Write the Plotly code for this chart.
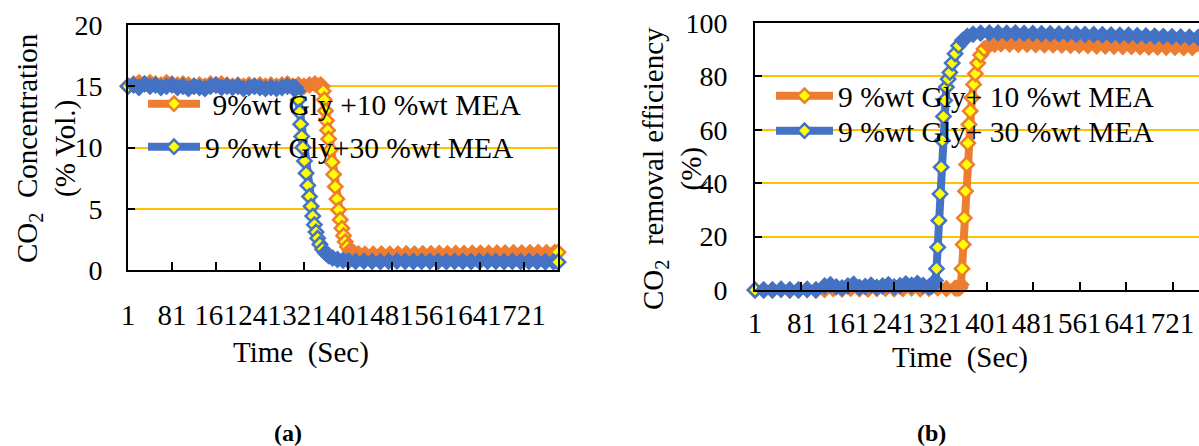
import plotly.graph_objects as go

# ---------------- data ----------------
tick_vals = [1, 81, 161, 241, 321, 401, 481, 561, 641, 721]
tick_text = ["1", "81", "161", "241", "321", "401", "481", "561", "641", "721"]

name_a10 = "\u00a09%wt Gly +10 %wt MEA"
name_a30 = "9 %wt Gly+30 %wt MEA"
name_b10 = "9 %wt Gly+ 10 %wt MEA"
name_b30 = "9 %wt Gly+ 30 %wt MEA"

# (a) CO2 concentration (% Vol.) - 9 %wt Gly + 10 %wt MEA
time_a10 = [1, 11, 21, 31, 41, 51, 61, 71, 81, 91, 101, 111, 121, 131, 141, 151, 161, 171,
            181, 191, 201, 211, 221, 231, 241, 251, 261, 271, 281, 291, 301, 311, 321, 331,
            341, 351,
            354, 356, 358, 360, 362, 364, 366, 369, 372, 375, 378, 381, 384, 387, 390, 393,
            396, 400, 405, 412, 420,
            432, 447, 462, 477, 492, 507, 522, 537, 552, 567, 582, 597, 612, 627, 642, 657,
            672, 687, 702, 717, 732, 747, 762, 777, 783]
conc_a10 = [15.0, 15.2, 15.3, 15.2, 15.3, 15.2, 15.1, 15.3, 15.2, 15.1, 15.2, 15.1, 15.0, 15.1,
            15.0, 15.2, 15.1, 15.2, 15.1, 15.0, 15.1, 15.0, 15.1, 15.0, 15.1, 15.0, 15.1, 15.0,
            15.1, 15.2, 15.0, 15.1, 15.0, 15.1, 15.2, 15.1,
            15.0, 14.6, 13.9, 13.0, 12.2, 11.4, 10.7, 9.8, 8.8, 7.8, 6.8, 5.8, 4.9, 4.1, 3.4,
            2.8, 2.3, 1.9, 1.6, 1.4, 1.32,
            1.3, 1.3, 1.32, 1.3, 1.31, 1.33, 1.32, 1.34, 1.33, 1.35, 1.34, 1.36, 1.35, 1.37,
            1.38, 1.37, 1.39, 1.4, 1.41, 1.4, 1.42, 1.43, 1.42, 1.44, 1.45]

# (a) CO2 concentration (% Vol.) - 9 %wt Gly + 30 %wt MEA
time_a30 = [1, 11, 21, 31, 41, 51, 61, 71, 81, 91, 101, 111, 121, 131, 141, 151, 161, 171,
            181, 191, 201, 211, 221, 231, 241, 251, 261, 271, 281, 291, 301,
            305, 309, 311, 313, 315, 317, 319, 322, 325, 328, 331, 334, 337, 340, 343, 346,
            350, 355, 360, 366, 373, 382, 392, 402,
            415, 430, 445, 460, 475, 490, 505, 520, 535, 550, 565, 580, 595, 610, 625, 640,
            655, 670, 685, 700, 715, 730, 745, 760, 775, 783]
conc_a30 = [15.0, 15.1, 14.9, 15.2, 15.0, 15.1, 14.9, 15.0, 15.1, 14.9, 15.0, 14.8, 15.0, 14.9,
            14.8, 15.0, 15.1, 14.9, 15.0, 14.9, 15.0, 14.8, 14.9, 15.0, 14.9, 14.8, 14.9, 14.8,
            14.9, 15.0, 14.9,
            14.9, 14.6, 13.9, 12.9, 11.9, 10.9, 10.0, 8.9, 7.9, 6.9, 6.0, 5.2, 4.4, 3.7, 3.1,
            2.6, 2.1, 1.7, 1.4, 1.15, 0.98, 0.86, 0.79, 0.74,
            0.7, 0.72, 0.7, 0.68, 0.7, 0.72, 0.7, 0.69, 0.7, 0.71, 0.7, 0.68, 0.7, 0.7, 0.69,
            0.7, 0.71, 0.7, 0.68, 0.7, 0.69, 0.7, 0.68, 0.67, 0.66, 0.65]

# (b) CO2 removal efficiency (%) - 9 %wt Gly + 10 %wt MEA
time_b10 = [1, 16, 31, 46, 61, 76, 91, 106, 121, 136, 151, 166, 181, 196, 211, 226, 241, 256,
            271, 286, 301, 316, 331, 346,
            350, 354, 356, 358, 360, 362, 364, 366, 368, 370, 372, 375, 378, 381, 385, 390,
            396, 404, 414, 425,
            440, 455, 470, 485, 500, 515, 530, 545, 560, 575, 590, 605, 620, 635, 650, 665,
            680, 695, 710, 725, 740, 755, 770, 783]
eff_b10 = [0, 0, 0, 0.2, 0, 0, 0.3, 0, 0.2, 0.5, 0.3, 0.6, 0.4, 0.3, 0.5, 0.6, 0.4, 0.5, 0.7,
           0.4, 0.6, 0.8, 0.5, 0.7,
           0.6, 0.8, 2, 8, 17, 27, 37, 47, 55, 62, 67, 72, 77, 81, 85, 88, 90.3, 91.5, 92.0,
           92.2,
           92.1, 92.0, 92.0, 91.9, 91.8, 91.8, 91.7, 91.6, 91.6, 91.5, 91.4, 91.4, 91.3, 91.2,
           91.2, 91.1, 91.0, 91.0, 90.9, 90.9, 90.8, 90.8, 90.7, 90.7]

# (b) CO2 removal efficiency (%) - 9 %wt Gly + 30 %wt MEA
time_b30 = [1, 16, 31, 46, 61, 76, 91, 106,
            121, 131, 141, 151, 161, 171, 181, 191, 201, 211, 221, 231, 241, 251, 261, 271,
            281, 291, 301,
            306, 310, 312, 314, 316, 318, 320, 322, 324, 326, 328, 331, 334, 337, 341, 346,
            352, 359, 367, 377, 390,
            405, 420, 435, 450, 465, 480, 495, 510, 525, 540, 555, 570, 585, 600, 615, 630,
            645, 660, 675, 690, 705, 720, 735, 750, 765, 780, 783]
eff_b30 = [0, 0, 0, 0.3, 0, 0, 0.2, 0,
           1.5, 2.0, 1.2, 0.8, 1.5, 2.2, 1.0, 1.3, 1.8, 1.0, 1.5, 2.0, 1.2, 1.6, 2.3, 1.8,
           2.5, 1.7, 1.2,
           1.5, 2.2, 3.5, 8, 16, 26, 36, 46, 56, 65, 71, 76, 79, 81.5, 85, 88.5, 91.5, 93.5,
           95, 95.8, 96.2,
           96.3, 96.3, 96.2, 96.3, 96.1, 96.1, 96.0, 96.0, 95.9, 95.9, 95.8, 95.7, 95.7, 95.6,
           95.5, 95.4, 95.4, 95.3, 95.2, 95.1, 95.0, 94.9, 94.8, 94.7, 94.6, 94.5, 94.5]

# ---------------- style ----------------
W, H = 1199, 446
ORANGE = "#ED7D31"
BLUE = "#4472C4"
YELLOW = "#FFFF00"
GOLD = "#FFC000"
FONT = "Liberation Serif"


def px(xp):
    return xp / W


def py(yp):
    return 1 - yp / H


fig = go.Figure()


def add_series(t, v, color, name, xa, ya, legend, thr):
    n = len(v)
    fills = [YELLOW if (i == 0 or i == n - 1 or abs(v[i] - v[i - 1]) > thr) else color
             for i in range(n)]
    fig.add_trace(go.Scatter(
        x=t, y=v, mode="lines+markers", name=name, xaxis=xa, yaxis=ya, legend=legend,
        line=dict(color=color, width=8),
        marker=dict(symbol="diamond", size=11, color=fills, line=dict(color=color, width=2.5)),
        cliponaxis=False, showlegend=True))


add_series(time_a10, conc_a10, ORANGE, name_a10, "x", "y", "legend", 0.35)
add_series(time_a30, conc_a30, BLUE, name_a30, "x", "y", "legend2", 0.35)
add_series(time_b10, eff_b10, ORANGE, name_b10, "x2", "y2", "legend3", 2.0)
add_series(time_b30, eff_b30, BLUE, name_b30, "x2", "y2", "legend4", 2.0)

xtickfont = dict(family=FONT, size=29, color="black")
ytickfont = dict(family=FONT, size=28, color="black")
common_x = dict(tickmode="array", tickvals=tick_vals, ticktext=tick_text, ticks="inside",
                ticklen=8, tickwidth=2, tickcolor="black", showline=True, linecolor="black",
                linewidth=2, mirror=True, showgrid=False, zeroline=False, tickfont=xtickfont,
                tickangle=0, automargin=False)
common_y = dict(ticks="inside", ticklen=7, tickwidth=2, tickcolor="black", showline=True,
                linecolor="black", linewidth=2, showgrid=True, gridcolor=GOLD, gridwidth=2,
                zeroline=False, tickfont=ytickfont, automargin=False)

fig.update_layout(
    width=W, height=H, autosize=False, template="none",
    margin=dict(l=0, r=0, t=0, b=0, pad=0),
    paper_bgcolor="white", plot_bgcolor="white",
    font=dict(family=FONT, size=28, color="black"),
    xaxis=dict(domain=[px(128), px(558)], range=[1, 783], anchor="y",
               ticklabelstandoff=18, **common_x),
    yaxis=dict(domain=[py(270), py(25)], range=[0, 20], tick0=0, dtick=5, anchor="x",
               mirror=True, ticklabelstandoff=18, **common_y),
    xaxis2=dict(domain=[px(755), 1.0], range=[1, 1 + (1199 - 755) / 0.58], anchor="y2",
                ticklabelstandoff=6, **common_x),
    yaxis2=dict(domain=[py(290), py(23)], range=[0, 100], tick0=0, dtick=20, anchor="x2",
                mirror=False, ticklabelstandoff=20, **common_y),
)

legfont = dict(family=FONT, size=29.5, color="black")
for key, xp, yp, iw in [("legend", 143, 104, 52), ("legend2", 143, 147, 52),
                        ("legend3", 771, 96, 57), ("legend4", 771, 131, 57)]:
    fig.update_layout({key: dict(x=px(xp), y=py(yp), xanchor="left", yanchor="middle",
                                 bgcolor="rgba(0,0,0,0)", borderwidth=0, font=legfont,
                                 itemwidth=iw, itemclick=False)})

ann = [
    dict(text="CO<sub>2</sub>  Concentration<br>(% Vol.)", x=px(46), y=py(148), textangle=-90),
    dict(text="CO<sub>2</sub>  removal efficiency<br>(%)", x=px(672), y=py(168), textangle=-90,
         font=dict(family=FONT, size=29, color="black")),
    dict(text="Time  (Sec)", x=px(301), y=py(352)),
    dict(text="Time  (Sec)", x=px(960), y=py(357)),
    dict(text="<b>(a)</b>", x=px(288), y=py(433), font=dict(family=FONT, size=24, color="black")),
    dict(text="<b>(b)</b>", x=px(932), y=py(433), font=dict(family=FONT, size=24, color="black")),
]
for a in ann:
    a.setdefault("font", dict(family=FONT, size=29, color="black"))
    fig.add_annotation(xref="paper", yref="paper", xanchor="center", yanchor="middle",
                       showarrow=False, **a)

fig.write_html("out.html")
